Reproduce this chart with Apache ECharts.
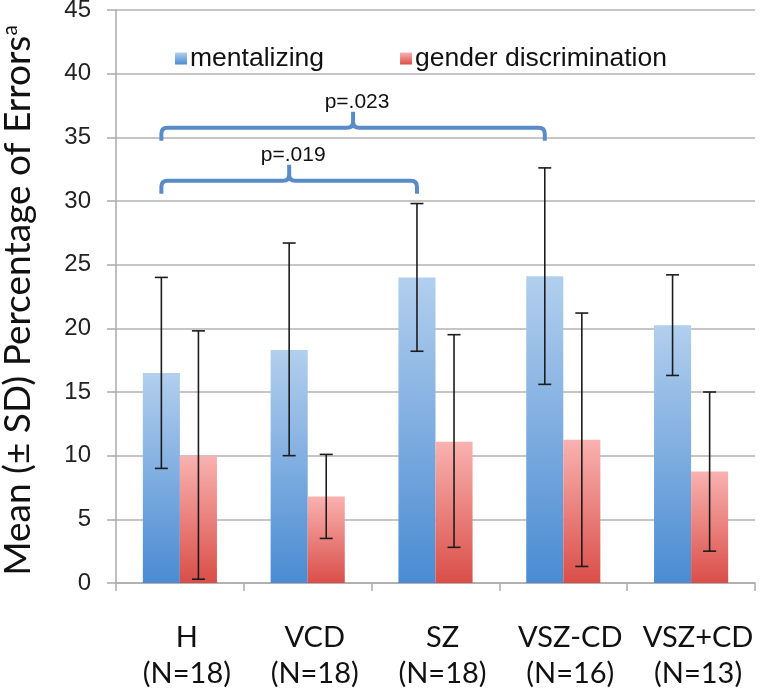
<!DOCTYPE html>
<html>
<head>
<meta charset="utf-8">
<script src="https://cdn.jsdelivr.net/npm/echarts@6/dist/echarts.min.js"></script>
<style>html,body{margin:0;padding:0;background:#fff}#c{width:760px;height:691px}</style>
</head>
<body>
<div id="c"></div>
<script>
const groups = ['H', 'VCD', 'SZ', 'VSZ-CD', 'VSZ+CD'];
const groupN = [18, 18, 18, 16, 13];
const mentalizing = [16.5, 18.3, 24.0, 24.1, 20.25];
const mentalizingLow = [9.0, 10.0, 18.2, 15.6, 16.3];
const mentalizingHigh = [24.0, 26.7, 29.8, 32.6, 24.2];
const gender = [10.0, 6.8, 11.1, 11.25, 8.75];
const genderLow = [0.3, 3.5, 2.8, 1.3, 2.5];
const genderHigh = [19.8, 10.1, 19.5, 21.2, 15.0];
const yTicks = [0, 5, 10, 15, 20, 25, 30, 35, 40, 45];
const brackets = [
  { from: 0, to: 3, y: 35.75, label: 'p=.023' },
  { from: 0, to: 2, y: 31.6, label: 'p=.019' }
];

const categories = groups.map((g, i) => g + '\n(N=' + groupN[i] + ')');
const BAR_FRAC = 0.29;

const chart = echarts.init(document.getElementById('c'), null, { renderer: 'canvas' });

function grad(top, bottom) {
  return new echarts.graphic.LinearGradient(0, 0, 0, 1, [
    { offset: 0, color: top }, { offset: 1, color: bottom }
  ]);
}

function errorSeries(name, low, high, side) {
  return {
    type: 'custom',
    name: name + '-err',
    z: 5,
    silent: true,
    renderItem: function (params, api) {
      const i = api.value(0);
      const lo = api.coord([i, api.value(1)]);
      const hi = api.coord([i, api.value(2)]);
      const band = api.size([1, 0])[0];
      const x = lo[0] + side * band * BAR_FRAC / 2;
      const cap = 6.5;
      const st = { stroke: '#1c1c1c', lineWidth: 1.6 };
      return {
        type: 'group',
        children: [
          { type: 'line', shape: { x1: x, y1: lo[1], x2: x, y2: hi[1] }, style: st },
          { type: 'line', shape: { x1: x - cap, y1: lo[1], x2: x + cap, y2: lo[1] }, style: st },
          { type: 'line', shape: { x1: x - cap, y1: hi[1], x2: x + cap, y2: hi[1] }, style: st }
        ]
      };
    },
    data: groups.map((g, i) => [i, low[i], high[i]])
  };
}

const option = {
  animation: false,
  backgroundColor: '#fff',
  grid: { left: 116, right: 5, top: 10, bottom: 108, outerBoundsMode: 'none', containLabel: false },
  legend: {
    left: 170, top: 40,
    itemWidth: 12, itemHeight: 12, itemGap: 76,
    icon: 'rect',
    textStyle: { fontSize: 26.5, fontFamily: 'Liberation Sans', color: '#111', padding: [0, 0, 0, -2] },
    data: ['mentalizing', 'gender discrimination']
  },
  xAxis: {
    type: 'category',
    data: categories,
    axisLine: { lineStyle: { color: '#aaaaaa', width: 1.5 } },
    axisTick: { show: true, length: 8, lineStyle: { color: '#aaaaaa', width: 1.5 } },
    axisLabel: {
      interval: 0, margin: 37, fontSize: 29, lineHeight: 36,
      fontFamily: 'Lato', color: '#111', padding: [0, 0, 0, 14]
    }
  },
  yAxis: {
    type: 'value', min: yTicks[0], max: yTicks[yTicks.length - 1], interval: 5,
    name: 'Mean (± SD) Percentage of Errors{sup|a}',
    nameLocation: 'middle', nameGap: 79,
    nameTextStyle: {
      fontSize: 37, fontFamily: 'Lato', color: '#111', padding: [0, 8, 0, 0],
      rich: { sup: { fontSize: 21, fontFamily: 'Lato', color: '#111', verticalAlign: 'top', padding: [0, 0, 16, 0] } }
    },
    axisLine: { show: true, lineStyle: { color: '#aaaaaa', width: 1.5 } },
    axisTick: { show: true, length: 9, lineStyle: { color: '#aaaaaa', width: 1.5 } },
    axisLabel: { fontSize: 24, fontFamily: 'Liberation Sans', color: '#222', margin: 25 },
    splitLine: { lineStyle: { color: '#b3b3b3', width: 1.5 } }
  },
  series: [
    {
      name: 'mentalizing', type: 'bar', barWidth: (BAR_FRAC * 100) + '%', barGap: '0%',
      itemStyle: { color: grad('#b2cfee', '#4a8bd2') },
      data: mentalizing
    },
    {
      name: 'gender discrimination', type: 'bar', barWidth: (BAR_FRAC * 100) + '%', barGap: '0%',
      itemStyle: { color: grad('#f9b2b0', '#da4e48') },
      data: gender
    },
    errorSeries('mentalizing', mentalizingLow, mentalizingHigh, -1),
    errorSeries('gender', genderLow, genderHigh, 1),
    {
      type: 'custom',
      name: 'brackets',
      z: 6,
      silent: true,
      renderItem: function (params, api) {
        const a = api.value(0), b = api.value(1), yv = api.value(2);
        const band = api.size([1, 0])[0];
        const p1 = api.coord([a, yv]);
        const p2 = api.coord([b, yv]);
        const x1 = p1[0] - band * BAR_FRAC / 2;
        const x2 = p2[0] - band * BAR_FRAC / 2;
        const y = p1[1];
        const xm = (x1 + x2) / 2;
        const r = 6, drop = 13, rise = 16;
        const d = 'M' + x1 + ',' + (y + drop) +
          ' L' + x1 + ',' + (y + r) +
          ' Q' + x1 + ',' + y + ' ' + (x1 + r) + ',' + y +
          ' L' + (xm - r) + ',' + y +
          ' Q' + xm + ',' + y + ' ' + xm + ',' + (y - r) +
          ' L' + xm + ',' + (y - rise) +
          ' M' + xm + ',' + (y - r) +
          ' Q' + xm + ',' + y + ' ' + (xm + r) + ',' + y +
          ' L' + (x2 - r) + ',' + y +
          ' Q' + x2 + ',' + y + ' ' + x2 + ',' + (y + r) +
          ' L' + x2 + ',' + (y + drop);
        return {
          type: 'group',
          children: [
            { type: 'path', shape: { pathData: d }, style: { fill: null, stroke: '#5a8bc9', lineWidth: 4, lineJoin: 'round', lineCap: 'butt' } },
            { type: 'text', x: xm + 4, y: y - rise + 1, style: { text: brackets[params.dataIndex].label, fontSize: 21, fontFamily: 'Liberation Sans', fill: '#111', align: 'center', verticalAlign: 'bottom' } }
          ]
        };
      },
      data: brackets.map(br => [br.from, br.to, br.y])
    }
  ]
};
chart.setOption(option);
</script>
</body>
</html>
